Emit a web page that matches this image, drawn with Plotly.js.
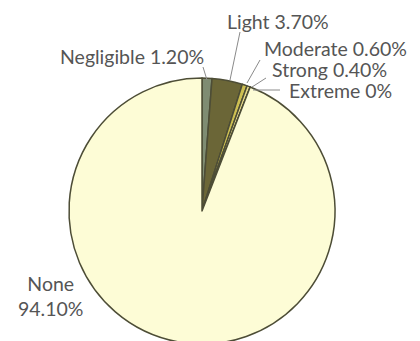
<!DOCTYPE html>
<html>
<head>
<meta charset="utf-8">
<script src="https://cdn.plot.ly/plotly-3.0.1.min.js"></script>
<style>html,body{margin:0;padding:0;background:#fff;overflow:hidden;}</style>
</head>
<body>
<div id="chart"></div>
<script>
const categories = ["Negligible", "Light", "Moderate", "Strong", "Extreme", "None"];
const values = [1.2, 3.7, 0.6, 0.4, 0.0, 94.1];
const labelTexts = ["Negligible 1.20%", "Light 3.70%", "Moderate 0.60%", "Strong 0.40%", "Extreme 0%", "None<br>94.10%"];
const colors = ["#7f8c72", "#6b6637", "#cdbf52", "#e6d98a", "#f0e6a0", "#fdfcd6"];

const W = 420, H = 350, L = 69, R = 85, T = 78, B = 6;
const pw = W - L - R, ph = H - T - B;
const px = v => (v - L) / pw;
const py = v => 1 - (v - T) / ph;

// label centers (pixels) and leader lines (pixels)
const labelPos = [[132, 57], [278, 21], [335, 48], [329, 69], [340, 90], [50, 296]];
const leaders = [[[203, 67], [207, 80]], [[240, 32], [230, 80]], [[260, 60], [247, 83]], [[266, 78], [252, 87]], [[280, 90], [253, 90]], null];

const annotations = labelTexts.map((t, i) => ({
  text: t, xref: "paper", yref: "paper", x: px(labelPos[i][0]), y: py(labelPos[i][1]),
  xanchor: "center", yanchor: "middle", showarrow: false, borderpad: 0,
  font: { family: "Lato, sans-serif", size: 19.5, color: "#555555" }
}));
const shapes = leaders.filter(Boolean).map(s => ({
  type: "line", xref: "paper", yref: "paper",
  x0: px(s[0][0]), y0: py(s[0][1]), x1: px(s[1][0]), y1: py(s[1][1]),
  line: { color: "#8a8a8a", width: 1 }
}));

Plotly.newPlot("chart", [{
  type: "pie", labels: categories, values: values, sort: false,
  direction: "clockwise", rotation: 0,
  marker: { colors: colors, line: { color: "#4d4d36", width: 1.5 } },
  textinfo: "none", hoverinfo: "none", showlegend: false
}], {
  width: W, height: H, margin: { l: L, r: R, t: T, b: B },
  paper_bgcolor: "#fff", showlegend: false,
  annotations: annotations, shapes: shapes
}, { staticPlot: true });
</script>
</body>
</html>
